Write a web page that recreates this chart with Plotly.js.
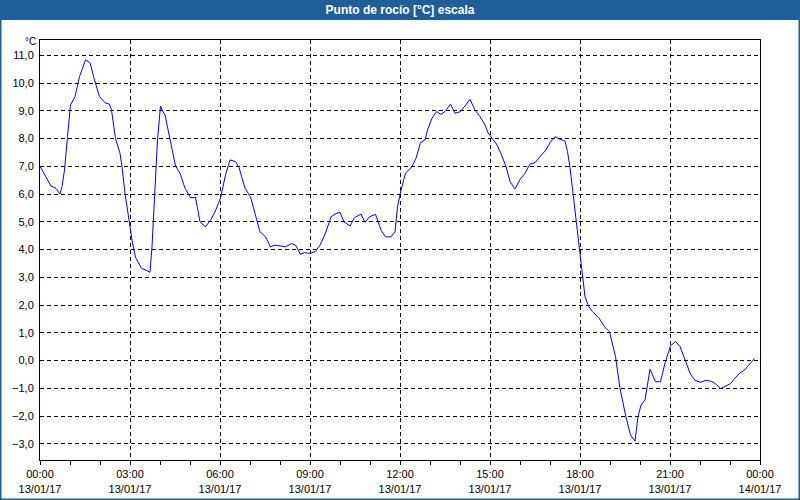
<!DOCTYPE html>
<html>
<head>
<meta charset="utf-8">
<script src="https://cdn.plot.ly/plotly-3.0.1.min.js"></script>
<style>
html,body{margin:0;padding:0;background:#fff;}
#chart{width:800px;height:500px;}
</style>
</head>
<body>
<div id="chart"></div>
<script>
const times = ["00:00","00:22","00:32","00:40","00:44","00:49","00:55","01:01","01:10","01:19","01:31","01:40","01:49","01:59","02:10","02:19","02:23","02:31","02:40","02:44","02:50","02:59","03:04","03:11","03:23","03:32","03:40","03:44","03:49","03:55","04:01","04:04","04:10","04:19","04:31","04:40","04:50","05:01","05:11","05:20","05:31","05:41","05:50","06:01","06:11","06:20","06:31","06:38","06:50","07:01","07:11","07:20","07:31","07:41","07:50","08:01","08:11","08:23","08:31","08:41","08:49","09:01","09:11","09:20","09:31","09:42","09:52","10:00","10:08","10:20","10:29","10:42","10:50","10:59","11:11","11:22","11:31","11:42","11:50","11:55","12:02","12:11","12:24","12:32","12:41","12:50","12:55","13:04","13:13","13:22","13:31","13:41","13:50","14:01","14:11","14:20","14:30","14:40","14:50","14:56","15:04","15:13","15:23","15:32","15:40","15:50","16:00","16:10","16:20","16:30","16:41","16:52","17:00","17:10","17:20","17:30","17:35","17:40","17:46","17:52","17:56","18:01","18:05","18:10","18:17","18:25","18:37","18:43","18:50","18:59","19:04","19:11","19:20","19:31","19:41","19:50","19:56","20:02","20:10","20:16","20:20","20:25","20:31","20:41","20:50","21:01","21:11","21:20","21:31","21:41","21:50","22:01","22:12","22:23","22:31","22:41","22:50","23:01","23:11","23:20","23:29","23:37","23:49"];
const dewPoint = [7.0,6.29,6.2,6.0,6.27,6.87,8.07,9.21,9.51,10.23,10.83,10.73,10.11,9.51,9.29,9.24,9.03,8.0,7.47,6.99,6.03,5.0,4.34,3.72,3.32,3.26,3.18,4.1,6.03,7.95,9.17,9.03,8.85,8.07,7.01,6.75,6.21,5.87,5.88,5.0,4.82,5.06,5.36,5.85,6.69,7.23,7.17,6.96,6.21,5.9,5.24,4.64,4.46,4.1,4.16,4.13,4.1,4.22,4.16,3.83,3.89,3.86,3.94,4.16,4.59,5.18,5.3,5.34,5.0,4.85,5.15,5.28,4.98,5.18,5.27,4.7,4.46,4.46,4.64,5.54,6.14,6.75,6.99,7.29,7.85,7.95,8.31,8.73,8.97,8.87,8.99,9.24,8.91,8.97,9.21,9.41,9.03,8.79,8.49,8.21,8.01,7.8,7.41,6.99,6.45,6.18,6.53,6.75,7.08,7.13,7.37,7.59,7.85,8.07,7.97,7.91,7.53,6.96,6.03,5.06,4.41,3.74,3.02,2.3,1.97,1.76,1.56,1.4,1.2,1.04,0.69,0.15,-1.0,-1.96,-2.68,-2.9,-2.02,-1.6,-1.42,-0.82,-0.31,-0.52,-0.76,-0.76,-0.09,0.53,0.69,0.51,-0.05,-0.49,-0.71,-0.78,-0.71,-0.75,-0.83,-1.01,-0.93,-0.83,-0.61,-0.44,-0.34,-0.16,0.08];
const day = "2017-01-13";
const tickVals = ["2017-01-13 00:00","2017-01-13 03:00","2017-01-13 06:00","2017-01-13 09:00","2017-01-13 12:00","2017-01-13 15:00","2017-01-13 18:00","2017-01-13 21:00","2017-01-14 00:00"];
const tickTexts = ["00:00<br>13/01/17","03:00<br>13/01/17","06:00<br>13/01/17","09:00<br>13/01/17","12:00<br>13/01/17","15:00<br>13/01/17","18:00<br>13/01/17","21:00<br>13/01/17","00:00<br>14/01/17"];
const yTicks = [-3,-2,-1,0,1,2,3,4,5,6,7,8,9,10,11];
const titleText = "Punto de rocío [°C] escala";
const unitText = "°C";

const W = 800, H = 500, mL = 40, mR = 40, mT = 40, mB = 40;
const pw = W - mL - mR, ph = H - mT - mB;
const px = X => (X - mL) / pw;
const py = Y => 1 - (Y - mT) / ph;

const trace = {
  x: times.map(t => day + " " + t),
  y: dewPoint,
  type: "scatter",
  mode: "lines",
  line: {color: "#0000ff", width: 1},
  hoverinfo: "skip"
};

const font = "'Liberation Sans', 'DejaVu Sans', Arial, sans-serif";

const layout = {
  width: W, height: H,
  margin: {l: mL, r: mR, t: mT, b: mB, pad: 0},
  paper_bgcolor: "#ffffff",
  plot_bgcolor: "#ffffff",
  separators: ",.",
  showlegend: false,
  font: {family: font, size: 11, color: "#000000"},
  title: {
    text: "<b>" + titleText + "</b>",
    font: {family: font, size: 12, color: "#ffffff"},
    x: 0.5, xanchor: "center",
    y: 1 - 10 / H, yref: "container", yanchor: "middle"
  },
  xaxis: {
    type: "date",
    range: ["2017-01-13 00:00", "2017-01-14 00:00"],
    tickmode: "array",
    tickvals: tickVals,
    ticktext: tickTexts,
    ticks: "outside", ticklen: 4, tickcolor: "#000", tickwidth: 1,
    minor: {dtick: 3600000, ticks: "outside", ticklen: 4, tickcolor: "#000", showgrid: false},
    showgrid: true, gridcolor: "#000000", gridwidth: 1, griddash: "4px,3px",
    showline: true, linecolor: "#000000", linewidth: 1, mirror: true,
    zeroline: false,
    tickfont: {family: font, size: 11, color: "#000"},
    fixedrange: true
  },
  yaxis: {
    range: [-3.58, 11.55],
    tickmode: "array",
    tickvals: yTicks,
    tickformat: ".1f",
    ticks: "",
    showgrid: true, gridcolor: "#000000", gridwidth: 1, griddash: "4px,3px",
    showline: true, linecolor: "#000000", linewidth: 1, mirror: true,
    zeroline: false,
    ticklabelstandoff: 3,
    tickfont: {family: font, size: 11, color: "#000"},
    fixedrange: true
  },
  shapes: [
    {type: "rect", xref: "paper", yref: "paper", layer: "below",
     x0: px(0), x1: px(W), y0: py(20), y1: py(0),
     fillcolor: "#1f5f99", line: {width: 0}},
    {type: "rect", xref: "paper", yref: "paper", layer: "below",
     x0: px(0.5), x1: px(W - 0.5), y0: py(H - 0.5), y1: py(0.5),
     fillcolor: "rgba(0,0,0,0)", line: {color: "#1f5f99", width: 2}}
  ],
  annotations: [
    {text: unitText, xref: "paper", yref: "paper", x: px(37), y: py(48),
     xanchor: "right", yanchor: "bottom", showarrow: false, borderpad: 0,
     font: {family: font, size: 10, color: "#000"}}
  ]
};

Plotly.newPlot("chart", [trace], layout, {displayModeBar: false, staticPlot: true});
</script>
</body>
</html>
